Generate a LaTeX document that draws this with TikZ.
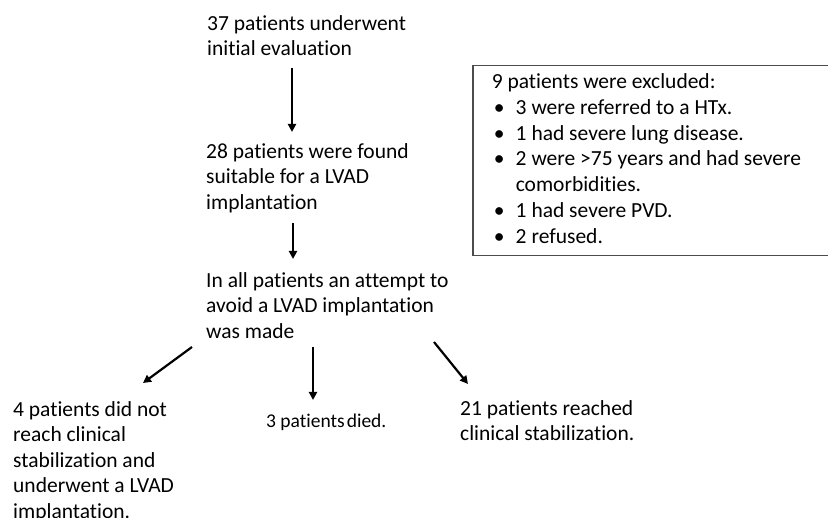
\documentclass[tikz,border=0pt]{standalone}
\usepackage{fontspec}
\setmainfont{Carlito}[Ligatures=NoCommon]
\usetikzlibrary{arrows.meta}

\begin{document}
\begin{tikzpicture}[x=1pt,y=-1pt,
  every node/.style={inner sep=0pt,anchor=north west,align=left,
    font=\fontsize{21.5}{25.5}\selectfont},
  flow/.style={-{Triangle[length=8pt,width=8pt]},line width=2.2pt},
  exclbox/.style={draw=black!70,line width=1.5pt,inner xsep=19pt,
    text width=325pt,minimum height=190pt}]
\useasboundingbox (0,0) rectangle (828,518);
\node (eval) at (207,15) {37 patients underwent\\initial evaluation};
\node (suitable) at (206,143) {28 patients were found\\suitable for a LVAD\\implantation};
\node (attempt) at (206,272) {In all patients an attempt to\\avoid a LVAD implantation\\was made};
\node[exclbox] (excluded) at (472,65) {%
  \spaceskip=0pt\xspaceskip=0pt
  \fontsize{21.5}{25.8}\selectfont
  \begin{tabular}{@{}l@{}l@{}}
  \multicolumn{2}{@{}l@{}}{9 patients were excluded:}\\
  \makebox[24pt][l]{\hspace{2pt}\textbullet} & 3 were referred to a HTx.\\
  \makebox[24pt][l]{\hspace{2pt}\textbullet} & 1 had severe lung disease.\\
  \makebox[24pt][l]{\hspace{2pt}\textbullet} & 2 were >75 years and had severe\\
   & comorbidities.\\
  \makebox[24pt][l]{\hspace{2pt}\textbullet} & 1 had severe PVD.\\
  \makebox[24pt][l]{\hspace{2pt}\textbullet} & 2 refused.
  \end{tabular}};
\node (lvad) at (13,401) {4 patients did not\\reach clinical\\stabilization and\\underwent a LVAD\\implantation.};
\node[font=\fontsize{19.5}{23}\selectfont] (died) at (266,414) {3 patients\hspace{2pt}died.};
\node (stable) at (460,400) {21 patients reached\\clinical stabilization.};

\draw[flow] ([shift={(85,53)}]eval.north west) -- ([shift={(86,-11)}]suitable.north west);
\draw[flow] ([shift={(87,80)}]suitable.north west) -- ([shift={(87,-13)}]attempt.north west);
\draw[flow] ([shift={(-14,75)}]attempt.north west) -- ([shift={(130,-18)}]lvad.north west);
\draw[flow] ([shift={(107,75)}]attempt.north west) -- ([shift={(47,-14)}]died.north west);
\draw[flow] ([shift={(228,70)}]attempt.north west) -- ([shift={(8,-16)}]stable.north west);
\end{tikzpicture}
\end{document}
